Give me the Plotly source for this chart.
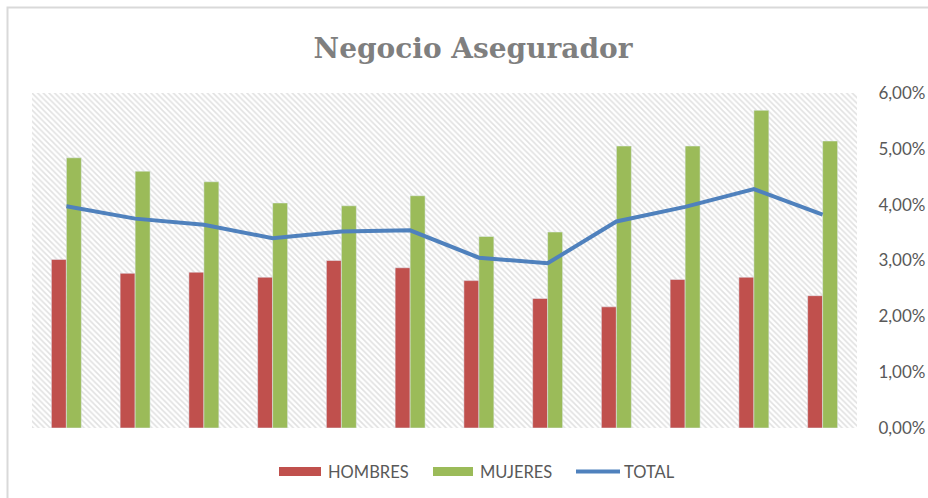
import plotly.graph_objects as go

# ---- data ----
categorias = list(range(12))
hombres = [0.0302, 0.0277, 0.0279, 0.0270, 0.0300, 0.0287, 0.0264, 0.0232, 0.0217, 0.0266, 0.0270, 0.0237]
mujeres = [0.0484, 0.0460, 0.0441, 0.0403, 0.0398, 0.0416, 0.0343, 0.0351, 0.0505, 0.0505, 0.0569, 0.0514]
total   = [0.0397, 0.0375, 0.0364, 0.0340, 0.0352, 0.0354, 0.0305, 0.0295, 0.0370, 0.0396, 0.0428, 0.0382]
y_ticks = [0, 0.01, 0.02, 0.03, 0.04, 0.05, 0.06]
series_names = ["HOMBRES", "MUJERES", "TOTAL"]

RED = "#c0504d"
GREEN = "#9bbb59"
BLUE = "#4f81bd"

W, H = 928, 498
L, R, T, B = 32, 857, 93, 428  # plot area in pixels


def px(x):
    return (x - L) / (R - L)


def py(y):
    return (B - y) / (B - T)


fig = go.Figure()

# hatched plot-area background
fig.add_trace(go.Scatter(
    x=[0, 1, 1, 0, 0], y=[0, 0, 1, 1, 0], mode="lines", fill="toself",
    line=dict(width=0), fillcolor="white",
    fillpattern=dict(shape="\\", size=4, solidity=0.4, fgcolor="#c4c4c4", bgcolor="white"),
    xaxis="x", yaxis="y", showlegend=False, hoverinfo="skip"))

fig.add_trace(go.Bar(x=categorias, y=hombres, name=series_names[0], marker_color=RED,
                     xaxis="x2", yaxis="y2", showlegend=False))
fig.add_trace(go.Bar(x=categorias, y=mujeres, name=series_names[1], marker_color=GREEN,
                     xaxis="x2", yaxis="y2", showlegend=False))
fig.add_trace(go.Scatter(x=categorias, y=total, name=series_names[2], mode="lines",
                         line=dict(color=BLUE, width=4), xaxis="x2", yaxis="y2", showlegend=False))

tick_font = dict(family="Lato, Open Sans, sans-serif", size=17, color="#595959")
legend_font = dict(family="Lato, Open Sans, sans-serif", size=16.5, color="#595959")

shapes = [
    # chart-area border (right/bottom edges lie outside the picture)
    dict(type="rect", xref="paper", yref="paper", x0=px(7.5), x1=px(1000), y0=py(600), y1=py(7.5),
         line=dict(color="#d9d9d9", width=2), fillcolor="rgba(0,0,0,0)", layer="below"),
    # custom legend swatches
    dict(type="rect", xref="paper", yref="paper", x0=px(279), x1=px(321), y0=py(476), y1=py(467),
         line=dict(width=0), fillcolor=RED),
    dict(type="rect", xref="paper", yref="paper", x0=px(433), x1=px(473), y0=py(476), y1=py(467),
         line=dict(width=0), fillcolor=GREEN),
    dict(type="line", xref="paper", yref="paper", x0=px(576), x1=px(620), y0=py(471.5), y1=py(471.5),
         line=dict(color=BLUE, width=4)),
]

annotations = [
    dict(text=series_names[0], x=px(326), y=py(471.5), xref="paper", yref="paper",
         xanchor="left", yanchor="middle", showarrow=False, font=legend_font),
    dict(text=series_names[1], x=px(478), y=py(471.5), xref="paper", yref="paper",
         xanchor="left", yanchor="middle", showarrow=False, font=legend_font),
    dict(text=series_names[2], x=px(622), y=py(471.5), xref="paper", yref="paper",
         xanchor="left", yanchor="middle", showarrow=False, font=legend_font),
]

fig.update_layout(
    width=W, height=H, autosize=False,
    margin=dict(l=L, r=W - R, t=T, b=H - B, pad=0, autoexpand=False),
    paper_bgcolor="white", plot_bgcolor="rgba(0,0,0,0)",
    separators=", ",
    title=dict(text="<b>Negocio Asegurador</b>", x=473 / W, xanchor="center", y=1 - 48 / H, yanchor="middle",
               font=dict(family="DejaVu Serif, serif", size=28, color="#7f7f7f")),
    barmode="group", bargap=0.564, bargroupgap=0,
    xaxis=dict(range=[0, 1], visible=False, fixedrange=True, automargin=False),
    yaxis=dict(range=[0, 1], visible=False, fixedrange=True, automargin=False),
    xaxis2=dict(overlaying="x", range=[-0.5, 11.5], visible=False, automargin=False),
    yaxis2=dict(overlaying="y", side="right", range=[0, 0.06], tickvals=y_ticks, tickformat=".2%",
                showgrid=False, zeroline=False, showline=False, automargin=False,
                ticks="outside", ticklen=17, tickcolor="rgba(0,0,0,0)", tickfont=tick_font),
    shapes=shapes, annotations=annotations, showlegend=False,
)

fig.write_html(
    "out.html",
    config={"displayModeBar": False},
    post_script="document.body.style.margin='0';document.body.style.overflow='hidden';",
)
